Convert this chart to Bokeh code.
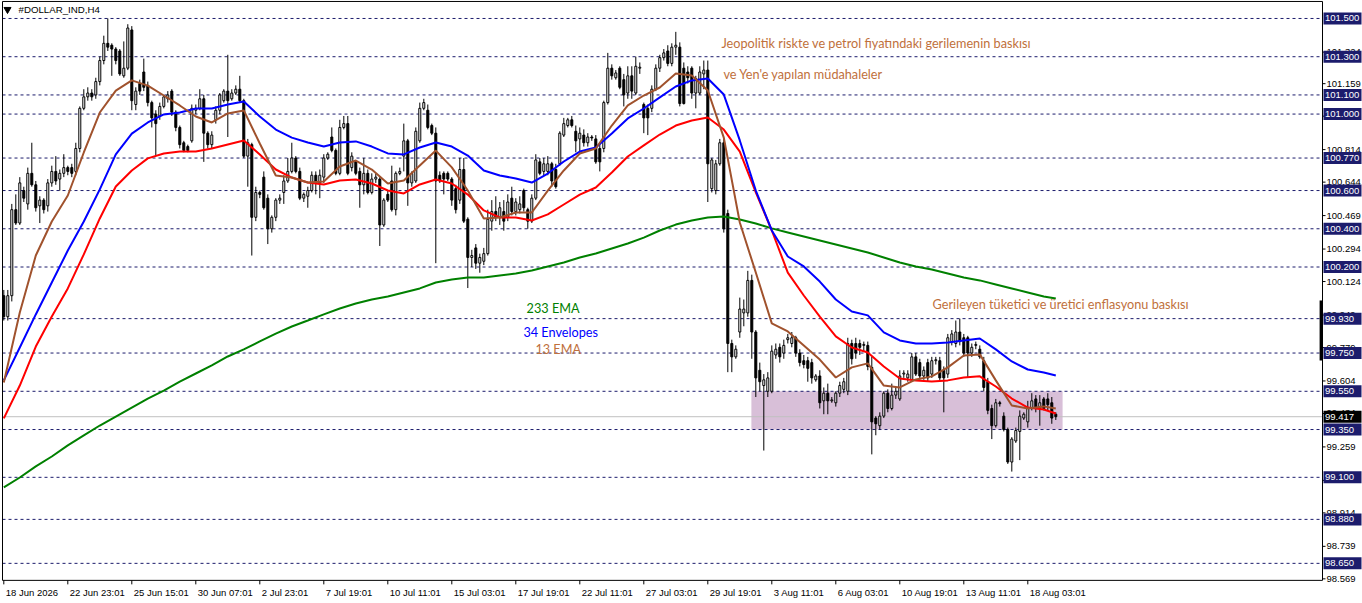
import numpy as np
from bokeh.plotting import figure
from bokeh.models import Range1d
from bokeh.core.properties import value
from bokeh.embed import file_html
from bokeh.resources import INLINE

# ---------------- data ----------------
symbol_title = "#DOLLAR_IND,H4"

date_tick_bars = [0, 16, 32, 48, 64, 80, 96, 112, 128, 144, 160, 176, 192, 208, 224, 240, 256]
date_tick_labels = ["18 Jun 2026", "22 Jun 23:01", "25 Jun 15:01", "30 Jun 07:01", "2 Jul 23:01",
                    "7 Jul 19:01", "10 Jul 11:01", "15 Jul 03:01", "17 Jul 19:01", "22 Jul 11:01",
                    "27 Jul 03:01", "29 Jul 19:01", "3 Aug 11:01", "6 Aug 03:01", "10 Aug 19:01",
                    "13 Aug 11:01", "18 Aug 03:01"]

open_ = [
    100.05, 99.94, 100.05, 100.50, 100.43, 100.60, 100.53, 100.69, 100.63, 100.52,
    100.55, 100.52, 100.64, 100.70, 100.66, 100.69, 100.72, 100.72, 100.70, 100.82,
    101.03, 101.09, 101.11, 101.10, 101.17, 101.28, 101.37, 101.36, 101.34, 101.33,
    101.20, 101.24, 101.44, 101.05, 101.16, 101.22, 101.15, 101.06, 101.00, 100.99,
    101.04, 101.08, 101.12, 101.01, 100.93, 100.85, 100.83, 100.86, 101.02, 101.03,
    101.08, 100.90, 100.84, 100.97, 101.02, 101.07, 101.12, 101.08, 101.11, 101.13,
    101.07, 100.78, 100.84, 100.46, 100.59, 100.67, 100.56, 100.40, 100.46, 100.55,
    100.59, 100.65, 100.70, 100.77, 100.70, 100.56, 100.57, 100.60, 100.68, 100.64,
    100.67, 100.77, 100.88, 100.81, 100.69, 100.93, 100.95, 100.72, 100.75, 100.70,
    100.63, 100.69, 100.59, 100.66, 100.66, 100.42, 100.58, 100.65, 100.50, 100.69,
    100.78, 100.86, 100.64, 100.65, 100.86, 101.03, 101.02, 100.94, 100.90, 100.68,
    100.69, 100.69, 100.66, 100.61, 100.55, 100.71, 100.45, 100.25, 100.30, 100.22,
    100.23, 100.27, 100.44, 100.49, 100.46, 100.49, 100.46, 100.56, 100.49, 100.50,
    100.60, 100.50, 100.44, 100.56, 100.75, 100.70, 100.70, 100.74, 100.71, 100.74,
    100.89, 100.94, 100.97, 100.91, 100.87, 100.89, 100.85, 100.88, 100.87, 100.82,
    100.82, 101.06, 101.24, 101.19, 101.24, 101.18, 101.11, 101.20, 101.11, 101.24,
    101.05, 101.03, 101.03, 101.13, 101.24, 101.295, 101.33, 101.265, 101.35, 101.35,
    101.24, 101.22, 101.24, 101.11, 101.11, 101.21, 101.23, 100.61, 100.60, 100.74,
    100.85, 100.48, 99.80, 99.73, 99.86, 99.96, 99.96, 100.13, 99.86, 99.66,
    99.58, 99.55, 99.55, 99.74, 99.78, 99.75, 99.82, 99.80, 99.83, 99.75,
    99.71, 99.71, 99.70, 99.61, 99.63, 99.50, 99.54, 99.50, 99.49, 99.54,
    99.56, 99.55, 99.80, 99.80, 99.80, 99.79, 99.79, 99.675, 99.41, 99.37,
    99.42, 99.54, 99.46, 99.53, 99.51, 99.64, 99.62, 99.61, 99.73, 99.70,
    99.63, 99.70, 99.64, 99.71, 99.71, 99.66, 99.64, 99.81, 99.80, 99.86,
    99.83, 99.83, 99.75, 99.79, 99.77, 99.71, 99.60, 99.46, 99.37, 99.49,
    99.42, 99.35, 99.18, 99.29, 99.34, 99.41, 99.39, 99.46, 99.51, 99.46,
    99.51, 99.51, 99.49, 99.43]

high = [
    100.08, 100.08, 100.53, 100.58, 100.67, 100.62, 100.72, 100.85, 100.65, 100.57,
    100.56, 100.66, 100.73, 100.78, 100.71, 100.79, 100.73, 100.74, 100.85, 101.04,
    101.13, 101.14, 101.13, 101.19, 101.30, 101.41, 101.50, 101.37, 101.35, 101.34,
    101.38, 101.47, 101.46, 101.14, 101.18, 101.29, 101.17, 101.07, 101.02, 101.06,
    101.10, 101.12, 101.13, 101.02, 100.94, 100.86, 100.84, 101.05, 101.05, 101.13,
    101.10, 100.91, 100.91, 101.04, 101.11, 101.13, 101.31, 101.13, 101.15, 101.20,
    101.08, 100.87, 100.85, 100.62, 100.60, 100.70, 100.58, 100.47, 100.56, 100.58,
    100.68, 100.77, 100.85, 100.78, 100.72, 100.59, 100.62, 100.70, 100.70, 100.71,
    100.79, 100.80, 100.93, 100.82, 100.97, 100.99, 100.99, 100.80, 100.76, 100.72,
    100.77, 100.71, 100.69, 100.69, 100.67, 100.56, 100.60, 100.73, 100.70, 100.72,
    100.95, 100.87, 100.70, 100.93, 101.06, 101.08, 101.05, 100.95, 100.93, 100.70,
    100.70, 100.70, 100.67, 100.63, 100.77, 100.77, 100.46, 100.29, 100.32, 100.27,
    100.30, 100.50, 100.55, 100.57, 100.54, 100.55, 100.58, 100.62, 100.56, 100.57,
    100.61, 100.51, 100.58, 100.79, 100.77, 100.77, 100.78, 100.75, 100.74, 100.91,
    100.98, 100.98, 100.99, 100.94, 100.93, 100.92, 100.90, 100.89, 100.89, 100.85,
    101.07, 101.32, 101.26, 101.23, 101.25, 101.21, 101.25, 101.25, 101.30, 101.27,
    101.06, 101.05, 101.15, 101.26, 101.31, 101.34, 101.36, 101.37, 101.43, 101.375,
    101.27, 101.25, 101.25, 101.20, 101.25, 101.28, 101.28, 100.77, 100.76, 100.87,
    100.87, 100.50, 99.82, 99.79, 100.04, 100.03, 100.18, 100.16, 99.87, 99.70,
    99.64, 99.65, 99.79, 99.80, 99.80, 99.82, 99.85, 99.86, 99.84, 99.77,
    99.74, 99.73, 99.72, 99.64, 99.66, 99.57, 99.59, 99.52, 99.55, 99.60,
    99.62, 99.83, 99.82, 99.83, 99.82, 99.81, 99.81, 99.73, 99.42, 99.44,
    99.55, 99.56, 99.59, 99.57, 99.66, 99.66, 99.66, 99.75, 99.75, 99.72,
    99.68, 99.72, 99.73, 99.73, 99.73, 99.68, 99.85, 99.87, 99.92, 99.93,
    99.85, 99.84, 99.80, 99.81, 99.79, 99.73, 99.62, 99.48, 99.51, 99.50,
    99.44, 99.36, 99.31, 99.36, 99.45, 99.44, 99.50, 99.54, 99.53, 99.53,
    99.52, 99.54, 99.52, 99.44]

low = [
    99.92, 99.92, 100.02, 100.42, 100.42, 100.54, 100.50, 100.62, 100.49, 100.43,
    100.48, 100.49, 100.62, 100.63, 100.60, 100.67, 100.68, 100.67, 100.68, 100.80,
    101.02, 101.07, 101.07, 101.08, 101.15, 101.26, 101.33, 101.20, 101.26, 101.20,
    101.19, 101.23, 101.02, 101.02, 101.10, 101.12, 101.04, 100.93, 100.78, 100.97,
    101.03, 101.06, 100.99, 100.91, 100.82, 100.80, 100.80, 100.85, 101.00, 101.02,
    100.75, 100.82, 100.82, 100.95, 101.00, 101.06, 100.88, 101.07, 101.10, 101.06,
    100.77, 100.62, 100.26, 100.44, 100.56, 100.50, 100.32, 100.38, 100.44, 100.53,
    100.53, 100.64, 100.69, 100.69, 100.55, 100.54, 100.51, 100.59, 100.58, 100.56,
    100.64, 100.76, 100.80, 100.68, 100.68, 100.92, 100.68, 100.70, 100.68, 100.51,
    100.58, 100.58, 100.58, 100.64, 100.31, 100.41, 100.54, 100.49, 100.47, 100.68,
    100.70, 100.52, 100.62, 100.64, 100.85, 101.02, 100.92, 100.89, 100.22, 100.64,
    100.58, 100.65, 100.52, 100.48, 100.53, 100.43, 100.09, 100.20, 100.19, 100.17,
    100.21, 100.26, 100.39, 100.44, 100.42, 100.39, 100.44, 100.47, 100.47, 100.48,
    100.49, 100.40, 100.43, 100.55, 100.68, 100.68, 100.68, 100.62, 100.61, 100.73,
    100.88, 100.93, 100.93, 100.80, 100.79, 100.83, 100.83, 100.86, 100.74, 100.70,
    100.80, 101.05, 101.18, 101.18, 101.13, 101.04, 101.08, 101.08, 101.10, 101.21,
    100.90, 100.89, 101.01, 101.12, 101.22, 101.28, 101.25, 101.25, 101.31, 101.04,
    101.05, 101.16, 101.08, 101.03, 101.10, 101.13, 100.54, 100.59, 100.58, 100.73,
    100.38, 99.65, 99.65, 99.72, 99.83, 99.89, 99.94, 99.72, 99.52, 99.55,
    99.24, 99.52, 99.54, 99.72, 99.70, 99.72, 99.80, 99.78, 99.73, 99.68,
    99.67, 99.60, 99.59, 99.60, 99.46, 99.43, 99.43, 99.49, 99.47, 99.52,
    99.54, 99.53, 99.69, 99.72, 99.74, 99.76, 99.66, 99.22, 99.32, 99.35,
    99.41, 99.44, 99.45, 99.51, 99.50, 99.62, 99.60, 99.60, 99.63, 99.61,
    99.61, 99.60, 99.62, 99.69, 99.60, 99.44, 99.62, 99.79, 99.78, 99.79,
    99.73, 99.62, 99.73, 99.77, 99.72, 99.55, 99.43, 99.30, 99.36, 99.47,
    99.34, 99.17, 99.13, 99.28, 99.19, 99.40, 99.36, 99.45, 99.44, 99.37,
    99.45, 99.45, 99.38, 99.40]

close = [
    99.94, 100.05, 100.50, 100.43, 100.64, 100.56, 100.69, 100.63, 100.51, 100.55,
    100.50, 100.64, 100.70, 100.65, 100.69, 100.72, 100.70, 100.69, 100.82, 101.03,
    101.09, 101.11, 101.09, 101.17, 101.28, 101.37, 101.35, 101.34, 101.28, 101.21,
    101.24, 101.45, 101.07, 101.12, 101.12, 101.14, 101.06, 100.98, 100.95, 101.04,
    101.09, 101.10, 101.01, 100.93, 100.84, 100.81, 100.81, 101.03, 101.03, 101.08,
    100.90, 100.84, 100.89, 101.02, 101.10, 101.12, 101.07, 101.11, 101.13, 101.07,
    100.78, 100.85, 100.46, 100.59, 100.58, 100.51, 100.40, 100.46, 100.55, 100.56,
    100.65, 100.70, 100.77, 100.70, 100.56, 100.58, 100.60, 100.68, 100.64, 100.68,
    100.77, 100.79, 100.81, 100.69, 100.93, 100.95, 100.69, 100.78, 100.69, 100.63,
    100.69, 100.59, 100.66, 100.67, 100.42, 100.55, 100.55, 100.50, 100.69, 100.70,
    100.86, 100.64, 100.69, 100.91, 101.03, 101.06, 100.93, 100.90, 100.65, 100.65,
    100.66, 100.66, 100.55, 100.50, 100.71, 100.44, 100.25, 100.26, 100.22, 100.25,
    100.27, 100.45, 100.49, 100.46, 100.51, 100.44, 100.54, 100.49, 100.54, 100.53,
    100.51, 100.44, 100.56, 100.76, 100.69, 100.74, 100.74, 100.65, 100.62, 100.90,
    100.95, 100.97, 100.94, 100.86, 100.90, 100.85, 100.88, 100.875, 100.75, 100.75,
    101.06, 101.24, 101.20, 101.215, 101.14, 101.10, 101.20, 101.12, 101.25, 101.245,
    100.98, 100.98, 101.13, 101.24, 101.295, 101.32, 101.265, 101.35, 101.36, 101.055,
    101.055, 101.19, 101.11, 101.185, 101.22, 101.23, 100.74, 100.76, 100.74, 100.85,
    100.40, 99.80, 99.73, 99.77, 99.98, 99.98, 100.13, 99.86, 99.62, 99.60,
    99.61, 99.62, 99.76, 99.77, 99.73, 99.79, 99.83, 99.83, 99.75, 99.70,
    99.69, 99.67, 99.62, 99.63, 99.49, 99.54, 99.50, 99.505, 99.54, 99.58,
    99.60, 99.80, 99.72, 99.75, 99.78, 99.795, 99.68, 99.39, 99.38, 99.42,
    99.54, 99.46, 99.53, 99.55, 99.63, 99.645, 99.64, 99.73, 99.64, 99.63,
    99.66, 99.62, 99.71, 99.715, 99.62, 99.62, 99.83, 99.85, 99.86, 99.81,
    99.75, 99.75, 99.78, 99.795, 99.73, 99.57, 99.45, 99.37, 99.49, 99.485,
    99.35, 99.18, 99.30, 99.345, 99.42, 99.43, 99.46, 99.50, 99.46, 99.49,
    99.46, 99.48, 99.41, 99.417]

# indicator values read every 4th bar (plus the last bar)
ind_bars = list(range(0, 261, 4)) + [263]
ema13 = [
    99.596, 99.962, 100.260, 100.438, 100.574, 100.799, 101.008, 101.123, 101.176, 101.149,
    101.097, 101.045, 100.987, 100.956, 101.003, 101.019, 100.846, 100.679, 100.668, 100.642,
    100.647, 100.726, 100.757, 100.710, 100.637, 100.653, 100.731, 100.809, 100.721, 100.600,
    100.454, 100.459, 100.485, 100.485, 100.600, 100.705, 100.794, 100.820, 100.940, 101.045,
    101.097, 101.139, 101.212, 101.202, 101.123, 100.877, 100.433, 100.171, 99.905, 99.863,
    99.790, 99.716, 99.622, 99.675, 99.696, 99.580, 99.570, 99.612, 99.628, 99.675,
    99.737, 99.743, 99.607, 99.476, 99.460, 99.471, 99.460]
env34_upper = [
    99.607, 99.779, 99.952, 100.119, 100.286, 100.438, 100.606, 100.789, 100.898, 100.956,
    100.998, 101.008, 101.029, 101.029, 101.050, 101.066, 100.987, 100.919, 100.877, 100.851,
    100.830, 100.851, 100.857, 100.830, 100.794, 100.789, 100.825, 100.851, 100.830, 100.783,
    100.705, 100.679, 100.663, 100.642, 100.689, 100.752, 100.804, 100.825, 100.898, 100.977,
    101.029, 101.087, 101.144, 101.176, 101.186, 101.102, 100.862, 100.600, 100.391, 100.255,
    100.203, 100.124, 100.030, 99.967, 99.947, 99.858, 99.816, 99.800, 99.800, 99.805,
    99.816, 99.826, 99.769, 99.706, 99.664, 99.648, 99.633]
env34_lower = [
    99.408, 99.580, 99.784, 99.941, 100.088, 100.266, 100.454, 100.621, 100.705, 100.768,
    100.794, 100.804, 100.804, 100.820, 100.841, 100.862, 100.789, 100.710, 100.668, 100.642,
    100.632, 100.653, 100.658, 100.637, 100.600, 100.585, 100.632, 100.658, 100.637, 100.579,
    100.496, 100.459, 100.459, 100.443, 100.475, 100.527, 100.579, 100.616, 100.694, 100.778,
    100.836, 100.893, 100.940, 100.966, 100.982, 100.919, 100.804, 100.590, 100.391, 100.171,
    100.051, 99.941, 99.837, 99.779, 99.753, 99.680, 99.617, 99.607, 99.601, 99.607,
    99.622, 99.628, 99.575, 99.512, 99.465, 99.455, 99.434]
ema233 = [
    99.047, 99.099, 99.157, 99.209, 99.267, 99.319, 99.371, 99.418, 99.465, 99.512,
    99.554, 99.601, 99.643, 99.685, 99.732, 99.769, 99.811, 99.852, 99.889, 99.920,
    99.952, 99.983, 100.009, 100.030, 100.046, 100.067, 100.088, 100.119, 100.135, 100.145,
    100.145, 100.156, 100.166, 100.182, 100.203, 100.224, 100.250, 100.271, 100.297, 100.323,
    100.354, 100.391, 100.422, 100.443, 100.459, 100.464, 100.449, 100.428, 100.402, 100.381,
    100.360, 100.339, 100.318, 100.297, 100.276, 100.250, 100.224, 100.203, 100.187, 100.166,
    100.145, 100.130, 100.109, 100.088, 100.067, 100.046, 100.035]

price_ticks = [101.324, 101.159, 100.989, 100.814, 100.644, 100.469, 100.294, 100.124, 99.949,
               99.779, 99.604, 99.434, 99.259, 99.084, 98.914, 98.739, 98.569]
level_lines = [101.500, 101.300, 101.100, 101.000, 100.770, 100.600, 100.400, 100.200, 99.930,
               99.750, 99.550, 99.350, 99.100, 98.880, 98.650]
last_price = 99.417

zone_bars = [186.9, 264.7]
zone_prices = [99.35, 99.55]

note_texts = ["Jeopolitik riskte ve petrol fiyatındaki gerilemenin baskısı",
              "ve Yen'e yapılan müdahaleler",
              "Gerileyen tüketici ve üretici enflasyonu baskısı"]
note_bars = [179.4, 179.9, 232.2]
note_prices = [101.374, 101.207, 100.004]

legend_texts = ["233 EMA", "34 Envelopes", "13 EMA"]
legend_bars = [130.7, 129.9, 132.9]
legend_prices = [99.988, 99.858, 99.769]

# ---------------- layout (data units of the chart window) ----------------
X_LEFT, X_RIGHT = -0.325, 329.675        # chart frame, in bars
Y_BOTTOM, Y_TOP = 98.561, 101.589        # chart frame, in price
PX_X = 4.0                               # pixels per bar
PX_Y = 191.2                             # pixels per price unit

NAVY = "#1c1c6c"
NOTE_COLOR = "#c0703c"
AXIS_FONT = "Liberation Sans"

p = figure(width=1362, height=603, output_backend="svg", toolbar_location=None,
           x_range=Range1d(-0.825, 339.675), y_range=Range1d(98.440, 101.594),
           x_axis_location=None, y_axis_location=None, min_border=0)
p.xgrid.visible = False
p.ygrid.visible = False
p.outline_line_color = None
p.background_fill_color = "white"
p.border_fill_color = "white"

# zone rectangle
p.quad(left=[zone_bars[0]], right=[zone_bars[1]], bottom=[zone_prices[0]], top=[zone_prices[1]],
       fill_color="#d8bfd8", line_color=None)

# horizontal levels
n_lv = len(level_lines)
p.segment(x0=[X_LEFT] * n_lv, x1=[X_RIGHT] * n_lv, y0=level_lines, y1=level_lines,
          line_color=NAVY, line_dash="3 3", line_width=1)
p.segment(x0=[X_LEFT], x1=[X_RIGHT], y0=[last_price], y1=[last_price], line_color="#c0c0c0", line_width=1)

# candles
idx = np.arange(len(close))
o = np.array(open_); c = np.array(close); h = np.array(high); l = np.array(low)
up = c >= o
p.segment(x0=idx, y0=l, x1=idx, y1=h, line_color="black", line_width=1)
p.vbar(x=idx[up], width=0.5, top=c[up], bottom=o[up], fill_color="white", line_color="black", line_width=1)
p.vbar(x=idx[~up], width=0.5, top=o[~up], bottom=c[~up], fill_color="black", line_color="black", line_width=1)

# indicators
p.line(ind_bars, ema233, line_color="#008000", line_width=2)
p.line(ind_bars, env34_lower, line_color="#ff0000", line_width=2)
p.line(ind_bars, env34_upper, line_color="#0000ff", line_width=2)
p.line(ind_bars, ema13, line_color="#a0522d", line_width=2)

# chart frame
p.line(x=[X_RIGHT, X_LEFT, X_LEFT, X_RIGHT, X_RIGHT], y=[Y_TOP, Y_TOP, Y_BOTTOM, Y_BOTTOM, Y_TOP],
       line_color="black", line_width=1)
p.segment(x0=[X_RIGHT - 0.35], y0=[99.711], x1=[X_RIGHT - 0.35], y1=[100.025], line_color="black", line_width=3)

# price scale (right)
n_t = len(price_ticks)
p.segment(x0=[X_RIGHT] * n_t, x1=[X_RIGHT + 3 / PX_X] * n_t, y0=price_ticks, y1=price_ticks,
          line_color="black", line_width=1)
p.text(x=[X_RIGHT + 4 / PX_X] * n_t, y=price_ticks, text=[f"{t:.3f}" for t in price_ticks],
       text_font=value(AXIS_FONT), text_font_size="9.5px", text_color="black",
       text_align="left", text_baseline="middle")
box_levels = level_lines + [last_price]
box_colors = [NAVY] * n_lv + ["black"]
p.rect(x=[X_RIGHT + 20 / PX_X] * len(box_levels), y=box_levels, width=38 / PX_X, height=12 / PX_Y,
       fill_color=box_colors, line_color=None)
p.text(x=[X_RIGHT + 2.5 / PX_X] * len(box_levels), y=box_levels, text=[f"{t:.3f}" for t in box_levels],
       text_font=value(AXIS_FONT), text_font_size="9.5px", text_color="white",
       text_align="left", text_baseline="middle")

# time scale (bottom)
n_d = len(date_tick_bars)
p.segment(x0=date_tick_bars, x1=date_tick_bars, y0=[Y_BOTTOM] * n_d, y1=[Y_BOTTOM - 4 / PX_Y] * n_d,
          line_color="black", line_width=1)
p.text(x=[b + 2 / PX_X for b in date_tick_bars], y=[Y_BOTTOM - 12 / PX_Y] * n_d, text=date_tick_labels,
       text_font=value(AXIS_FONT), text_font_size="9.5px", text_color="black",
       text_align="left", text_baseline="middle")

# notes
p.text(x=note_bars, y=note_prices, text=note_texts, text_font=value("Lato"), text_font_size="12.7px",
       text_color=NOTE_COLOR, text_align="left", text_baseline="middle")
p.text(x=legend_bars, y=legend_prices, text=legend_texts, text_font=value("Lato"), text_font_size="12.7px",
       text_color=["#008000", "#0000ff", NOTE_COLOR], text_align="left", text_baseline="middle")

# title
p.scatter(x=[0.925], y=[101.547], marker="inverted_triangle", size=7, color="black")
p.text(x=[3.675], y=[101.547], text=[symbol_title], text_font=value(AXIS_FONT), text_font_size="9.7px",
       text_color="black", text_align="left", text_baseline="middle")

open("out.html", "w").write(file_html(p, INLINE))
